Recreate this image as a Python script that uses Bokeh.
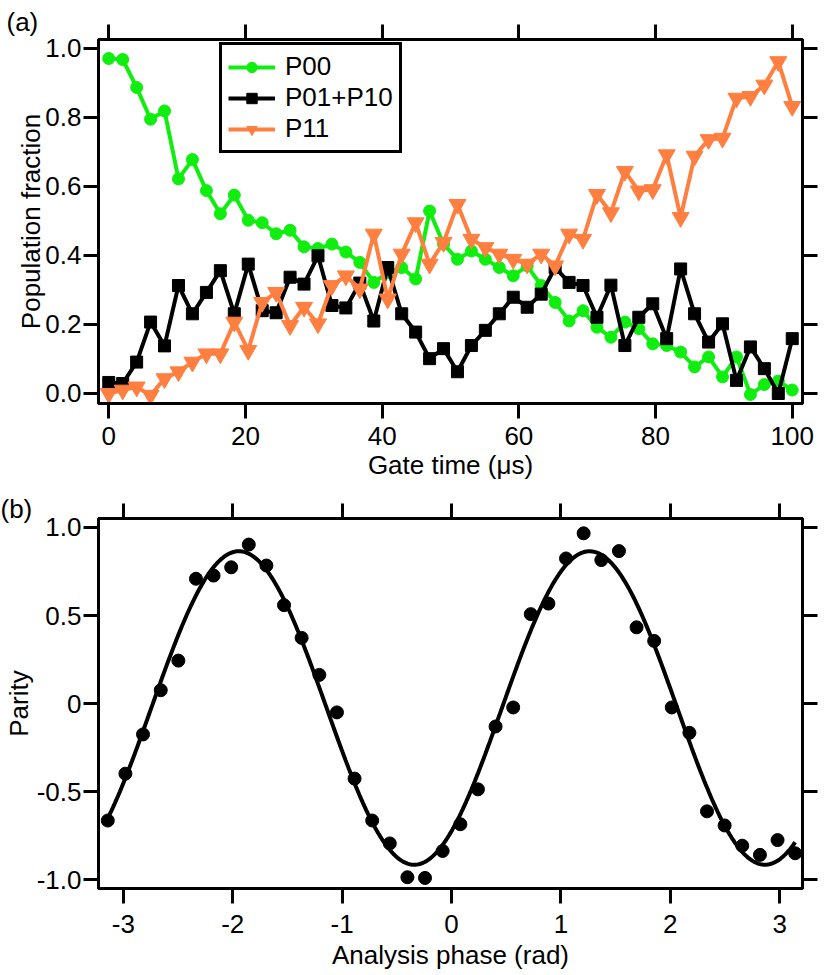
import numpy as np
from bokeh.plotting import figure
from bokeh.models import LinearAxis, FixedTicker, Range1d, Legend, LegendItem, Title
from bokeh.layouts import column
from bokeh.embed import file_html
from bokeh.resources import INLINE

# ---------------- data: panel (a) ----------------
gate_time = [0, 2.04, 4.08, 6.12, 8.16, 10.20, 12.24, 14.29, 16.33, 18.37,
             20.41, 22.45, 24.49, 26.53, 28.57, 30.61, 32.65, 34.69, 36.73, 38.78,
             40.82, 42.86, 44.90, 46.94, 48.98, 51.02, 53.06, 55.10, 57.14, 59.18,
             61.22, 63.27, 65.31, 67.35, 69.39, 71.43, 73.47, 75.51, 77.55, 79.59,
             81.63, 83.67, 85.71, 87.76, 89.80, 91.84, 93.88, 95.92, 97.96, 100.0]

p00 = [0.971, 0.968, 0.887, 0.795, 0.819, 0.622, 0.678, 0.588, 0.521, 0.575,
       0.502, 0.495, 0.463, 0.473, 0.425, 0.420, 0.433, 0.410, 0.380, 0.322,
       0.350, 0.365, 0.332, 0.529, 0.433, 0.389, 0.413, 0.389, 0.365, 0.341,
       0.370, 0.313, 0.264, 0.210, 0.240, 0.192, 0.163, 0.207, 0.188, 0.144,
       0.139, 0.120, 0.077, 0.106, 0.048, 0.106, -0.003, 0.026, 0.036, 0.010]

p01_p10 = [0.032, 0.029, 0.091, 0.207, 0.138, 0.313, 0.231, 0.293, 0.356, 0.231,
           0.375, 0.240, 0.234, 0.337, 0.317, 0.399, 0.255, 0.248, 0.320, 0.210,
           0.365, 0.231, 0.178, 0.101, 0.130, 0.063, 0.139, 0.183, 0.231, 0.279,
           0.250, 0.288, 0.365, 0.322, 0.313, 0.221, 0.314, 0.139, 0.221, 0.260,
           0.159, 0.361, 0.231, 0.149, 0.202, 0.038, 0.135, 0.072, 0.000, 0.159]

p11 = [0.000, 0.010, 0.019, -0.005, 0.043, 0.063, 0.091, 0.115, 0.115, 0.207,
       0.125, 0.264, 0.293, 0.197, 0.250, 0.202, 0.313, 0.341, 0.303, 0.462,
       0.274, 0.404, 0.495, 0.375, 0.438, 0.548, 0.447, 0.423, 0.404, 0.389,
       0.375, 0.404, 0.370, 0.462, 0.447, 0.577, 0.524, 0.644, 0.587, 0.591,
       0.692, 0.510, 0.688, 0.736, 0.740, 0.856, 0.861, 0.894, 0.962, 0.832]

series_labels = ["P00", "P01+P10", "P11"]

x_ticks_a = [0, 20, 40, 60, 80, 100]
x_tick_labels_a = ["0", "20", "40", "60", "80", "100"]
y_ticks_a = [0.0, 0.2, 0.4, 0.6, 0.8, 1.0]
y_tick_labels_a = ["0.0", "0.2", "0.4", "0.6", "0.8", "1.0"]

# ---------------- data: panel (b) ----------------
phase = [-3.142, -2.981, -2.820, -2.658, -2.497, -2.336, -2.175, -2.014, -1.853, -1.692,
         -1.531, -1.370, -1.208, -1.047, -0.886, -0.725, -0.564, -0.403, -0.242, -0.081,
         0.081, 0.242, 0.403, 0.564, 0.725, 0.886, 1.047, 1.208, 1.370, 1.531,
         1.692, 1.853, 2.014, 2.175, 2.336, 2.497, 2.658, 2.820, 2.981, 3.142]

parity = [-0.664, -0.398, -0.175, 0.076, 0.244, 0.709, 0.727, 0.774, 0.903, 0.784,
          0.559, 0.373, 0.163, -0.050, -0.426, -0.664, -0.794, -0.986, -0.990, -0.837,
          -0.685, -0.487, -0.130, -0.022, 0.508, 0.568, 0.824, 0.967, 0.815, 0.866,
          0.433, 0.356, -0.022, -0.166, -0.612, -0.692, -0.807, -0.859, -0.775, -0.850]

# fitted sinusoid parameters
fit_amplitude = 0.89
fit_offset = -0.025
fit_frequency = 1.96
fit_peak_phase = -1.943

x_ticks_b = [-3, -2, -1, 0, 1, 2, 3]
x_tick_labels_b = ["-3", "-2", "-1", "0", "1", "2", "3"]
y_ticks_b = [-1.0, -0.5, 0.0, 0.5, 1.0]
y_tick_labels_b = ["-1.0", "-0.5", "0", "0.5", "1.0"]

# ---------------- styling ----------------
FONT = "Liberation Sans"
FS = "26px"
GREEN = "#10EE10"
ORANGE = "#FF7F40"
BLACK = "#000000"


def style_axis(ax, ticks, labels=None, label_standoff=0, title_standoff=0):
    ax.ticker = FixedTicker(ticks=ticks)
    ax.axis_line_width = 3
    ax.axis_line_color = BLACK
    ax.major_tick_line_width = 3
    ax.major_tick_line_color = BLACK
    ax.major_tick_out = 15
    ax.major_tick_in = 0
    ax.minor_tick_line_color = None
    ax.major_label_text_font = FONT
    ax.axis_label_text_font = FONT
    ax.axis_label_text_font_size = FS
    ax.axis_label_text_font_style = "normal"
    ax.axis_label_text_color = BLACK
    ax.axis_label_standoff = title_standoff
    if labels is not None:
        ax.major_label_overrides = {t: s for t, s in zip(ticks, labels)}
        ax.major_label_text_font_size = FS
        ax.major_label_text_color = BLACK
        ax.major_label_standoff = label_standoff
    else:
        # tick marks only, no labels drawn
        ax.major_label_text_font_size = "1px"
        ax.major_label_text_color = None
        ax.major_label_standoff = 0


def panel_title(text, offset, standoff, valign):
    return Title(text=text, align="left", vertical_align=valign, offset=offset,
                 standoff=standoff, text_font=FONT, text_font_size=FS,
                 text_font_style="normal", text_color=BLACK)


# ---------------- panel (a) ----------------
p1 = figure(width=830, height=482, output_backend="svg", toolbar_location=None,
            x_range=Range1d(-1.5, 101.5), y_range=Range1d(-0.029, 1.026),
            min_border_left=93, min_border_right=28, min_border_top=39,
            min_border_bottom=77,
            x_axis_label="Gate time (μs)", y_axis_label="Population fraction")
p1.title = panel_title("(a)", -92, -29, "top")
p1.grid.visible = False
p1.outline_line_color = BLACK
p1.outline_line_width = 3
p1.background_fill_color = "white"
p1.border_fill_color = "white"

style_axis(p1.xaxis[0], x_ticks_a, x_tick_labels_a, label_standoff=8, title_standoff=2)
style_axis(p1.yaxis[0], y_ticks_a, y_tick_labels_a, label_standoff=2, title_standoff=-4)
top1 = LinearAxis()
style_axis(top1, x_ticks_a)
p1.add_layout(top1, "above")
right1 = LinearAxis()
style_axis(right1, y_ticks_a)
p1.add_layout(right1, "right")

l_g = p1.line(gate_time, p00, line_color=GREEN, line_width=4)
s_g = p1.scatter(gate_time, p00, marker="circle", size=12, fill_color=GREEN, line_color=GREEN)
l_k = p1.line(gate_time, p01_p10, line_color=BLACK, line_width=4)
s_k = p1.scatter(gate_time, p01_p10, marker="square", size=12, fill_color=BLACK, line_color=BLACK)
l_o = p1.line(gate_time, p11, line_color=ORANGE, line_width=4)
s_o = p1.scatter(gate_time, p11, marker="inverted_triangle", size=17, fill_color=ORANGE, line_color=ORANGE)

legend = Legend(items=[LegendItem(label=series_labels[0], renderers=[l_g, s_g]),
                       LegendItem(label=series_labels[1], renderers=[l_k, s_k]),
                       LegendItem(label=series_labels[2], renderers=[l_o, s_o])],
                location=(121, 250))
legend.border_line_color = BLACK
legend.border_line_width = 3
legend.border_line_alpha = 1.0
legend.background_fill_color = "white"
legend.background_fill_alpha = 1.0
legend.label_text_font = FONT
legend.label_text_font_size = FS
legend.label_text_line_height = 1.0
legend.label_text_color = BLACK
legend.glyph_width = 47
legend.glyph_height = 26
legend.label_height = 26
legend.spacing = 0
legend.padding = 6
legend.margin = 0
legend.label_standoff = 10
p1.add_layout(legend)

# ---------------- panel (b) ----------------
p2 = figure(width=830, height=490, output_backend="svg", toolbar_location=None,
            x_range=Range1d(-3.227, 3.209), y_range=Range1d(-1.05, 1.051),
            min_border_left=88, min_border_right=26, min_border_top=36,
            min_border_bottom=80,
            x_axis_label="Analysis phase (rad)", y_axis_label="Parity")
p2.title = panel_title("(b)", -98, -41, "bottom")
p2.grid.visible = False
p2.outline_line_color = BLACK
p2.outline_line_width = 3
p2.background_fill_color = "white"
p2.border_fill_color = "white"

style_axis(p2.xaxis[0], x_ticks_b, x_tick_labels_b, label_standoff=11, title_standoff=4)
style_axis(p2.yaxis[0], y_ticks_b, y_tick_labels_b, label_standoff=2, title_standoff=0)
top2 = LinearAxis()
style_axis(top2, x_ticks_b)
p2.add_layout(top2, "above")
right2 = LinearAxis()
style_axis(right2, y_ticks_b)
p2.add_layout(right2, "right")

fit_x = np.linspace(phase[0], phase[-1], 400)
fit_y = fit_offset + fit_amplitude * np.cos(fit_frequency * (fit_x - fit_peak_phase))
p2.line(fit_x, fit_y, line_color=BLACK, line_width=4)
p2.scatter(phase, parity, marker="circle", size=13, fill_color=BLACK, line_color=BLACK)

layout = column(p1, p2, spacing=0)
open("out.html", "w").write(file_html(layout, INLINE))
